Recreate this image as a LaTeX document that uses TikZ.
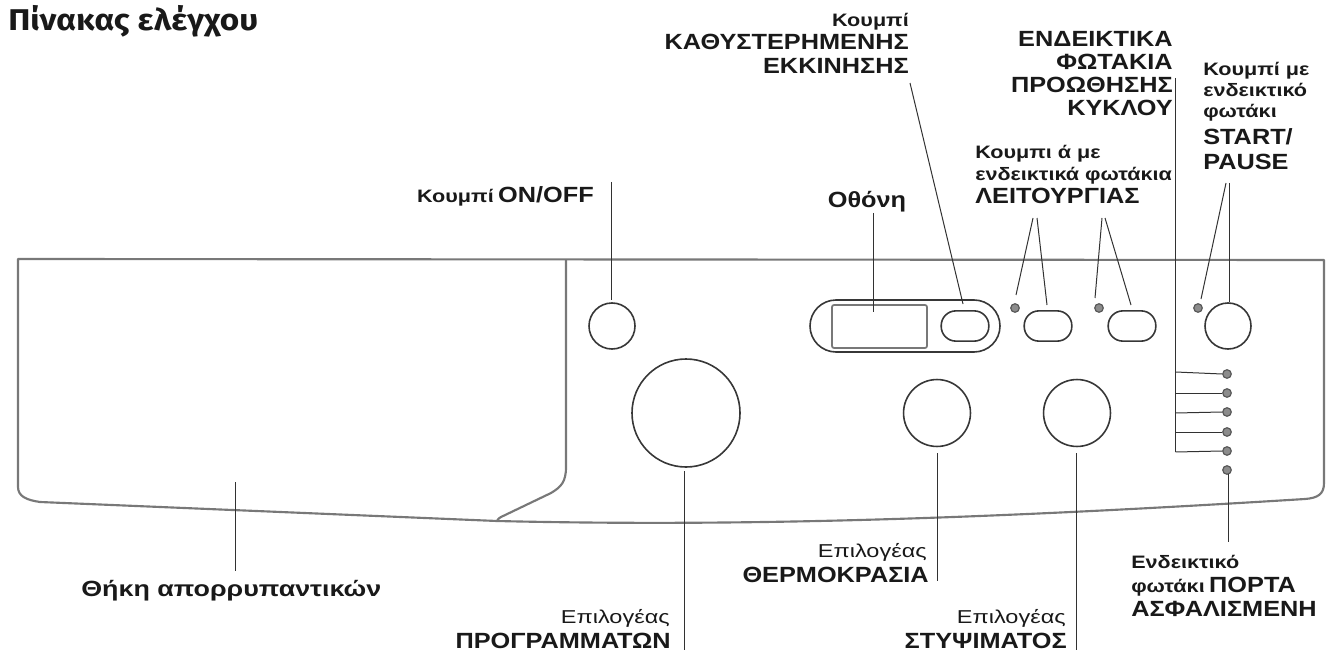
\documentclass[tikz,border=0pt]{standalone}
\usepackage{fontspec}
\newfontfamily\capsfont[FakeStretch=1.15]{Liberation Sans}
\newfontfamily\smlfont[FakeStretch=1.2]{Liberation Sans}
\newfontfamily\regfont[FakeStretch=1.26]{Liberation Sans}
\newfontfamily\widefont[FakeStretch=1.22]{Liberation Sans}
\newfontfamily\ttlfont[FakeStretch=1.11]{Fira Sans}
\newcommand\Lbig{\capsfont\bfseries\fontsize{16.5}{18}\selectfont}
\newcommand\Lsm{\smlfont\bfseries\fontsize{13.5}{15}\selectfont}
\newcommand\Lreg{\regfont\fontsize{14}{16}\selectfont}
\definecolor{panelgray}{RGB}{120,120,120}
\definecolor{btngray}{RGB}{55,55,55}
\definecolor{ledfill}{RGB}{140,140,140}
\definecolor{leadgray}{RGB}{50,50,50}
\definecolor{txt}{RGB}{25,25,25}
\begin{document}
\begin{tikzpicture}[x=0.75pt,y=-0.75pt,
  panel/.style={draw=panelgray,line width=1.6pt,line join=round},
  btnline/.style={draw=btngray,line width=1.2pt},
  knob/.style={circle,btnline,inner sep=0pt},
  pill/.style={rectangle,btnline,rounded corners=11pt,minimum width=35.7pt,minimum height=22.7pt,inner sep=0pt},
  led/.style={circle,draw=black!65,fill=ledfill,line width=0.9pt,minimum size=6.4pt,inner sep=0pt},
  leader/.style={draw=leadgray,line width=0.75pt},
  lbl/.style={inner sep=0pt,text=txt}]
\useasboundingbox (0,0) rectangle (1337,659);

% ---------- panel outline ----------
\draw[panel] (18,487) -- (18,259) -- (1324,260) -- (1324,483)
  .. controls (1324,494) and (1318,498) .. (1305,499)
  .. controls (1000,518) and (750,527) .. (497,521)
  -- (40,502) .. controls (26,500) and (18,496) .. (18,487);
\draw[panel] (566,260) -- (566,467) .. controls (566,482) and (561,487) .. (551,493)
  -- (501,517) .. controls (498,519) .. (497,521);

% ---------- display ----------
\draw[btnline,rounded corners=19.5pt] (810,300) rectangle (1000,352);
\draw[draw=panelgray,line width=1.3pt,rounded corners=1.5pt] (832,305) rectangle (927,348);
\node[pill] (delay) at (965,326) {};

% ---------- buttons ----------
\node[knob,minimum size=34.5pt] (onoff) at (612,326) {};
\node[knob,minimum size=81pt] (prog) at (686,413) {};
\node[knob,minimum size=50.2pt] (temp) at (937,413) {};
\node[knob,minimum size=50.2pt] (spin) at (1077,413) {};
\node[knob,minimum size=34.5pt] (start) at (1228,326) {};
\node[pill] (fa) at (1048,326) {};
\node[pill] (fb) at (1132,326) {};
\node[led] (ledA) at (1015,308) {};
\node[led] (ledB) at (1099,308) {};
\node[led] (ledS) at (1198,308) {};
\node[led] (p1) at (1227,374) {};
\node[led] (p2) at (1227,393) {};
\node[led] (p3) at (1227,412) {};
\node[led] (p4) at (1227,432) {};
\node[led] (p5) at (1227,451) {};
\node[led] (p6) at (1227,470) {};

% ---------- labels ----------
\node[lbl,anchor=base west] (title) at (8,31) {\ttlfont\bfseries\fontsize{22.5}{24}\selectfont Πίνακας ελέγχου};

\node[lbl,anchor=base east] (lonoff) at (594,203) {{\Lsm Κουμπί} {\Lbig ON/OFF}};
\node[lbl,anchor=base] (lscreen) at (867,208) {\Lbig Οθόνη};

\node[lbl,anchor=base east] (ld1) at (909,27) {\Lsm Κουμπί};
\node[lbl,anchor=base east] (ld2) at (909,50) {\Lbig ΚΑΘΥΣΤΕΡΗΜΕΝΗΣ};
\node[lbl,anchor=base east] (ld3) at (909,74) {\Lbig ΕΚΚΙΝΗΣΗΣ};

\node[lbl,anchor=base east] (lp1) at (1173,47) {\Lbig ΕΝΔΕΙΚΤΙΚΑ};
\node[lbl,anchor=base east] (lp2) at (1173,70) {\Lbig ΦΩΤΑΚΙΑ};
\node[lbl,anchor=base east] (lp3) at (1173,93) {\Lbig ΠΡΟΩΘΗΣΗΣ};
\node[lbl,anchor=base east] (lp4) at (1173,116) {\Lbig ΚΥΚΛΟΥ};

\node[lbl,anchor=base west] (ls1) at (1203,76) {\Lsm Κουμπί με};
\node[lbl,anchor=base west] (ls2) at (1203,97) {\Lsm ενδεικτικό};
\node[lbl,anchor=base west] (ls3) at (1203,118) {\Lsm φωτάκι};
\node[lbl,anchor=base west] (ls4) at (1203,145) {\Lbig START/};
\node[lbl,anchor=base west] (ls5) at (1203,170) {\Lbig PAUSE};

\node[lbl,anchor=base west] (lf1) at (975,159) {\Lsm Κουμπι ά με};
\node[lbl,anchor=base west] (lf2) at (975,181) {\Lsm ενδεικτικά φωτάκια};
\node[lbl,anchor=base west] (lf3) at (975,204) {\Lbig ΛΕΙΤΟΥΡΓΙΑΣ};

\node[lbl,anchor=base west] (ldrawer) at (81,596) {\widefont\bfseries\fontsize{16.5}{18}\selectfont Θήκη απορρυπαντικών};

\node[lbl,anchor=base east] (lpr1) at (670,623) {\Lreg Επιλογέας};
\node[lbl,anchor=base east] (lpr2) at (671,648) {\Lbig ΠΡΟΓΡΑΜΜΑΤΩΝ};
\node[lbl,anchor=base east] (lt1) at (927,557) {\Lreg Επιλογέας};
\node[lbl,anchor=base east] (lt2) at (929,582) {\Lbig ΘΕΡΜΟΚΡΑΣΙΑ};
\node[lbl,anchor=base east] (lsp1) at (1066,623) {\Lreg Επιλογέας};
\node[lbl,anchor=base east] (lsp2) at (1067,648) {\Lbig ΣΤΥΨΙΜΑΤΟΣ};

\node[lbl,anchor=base west] (ldo1) at (1131,568) {\Lsm Ενδεικτικό};
\node[lbl,anchor=base west] (ldo2) at (1131,592) {{\Lsm φωτάκι} {\Lbig ΠΟΡΤΑ}};
\node[lbl,anchor=base west] (ldo3) at (1131,616) {\Lbig ΑΣΦΑΛΙΣΜΕΝΗ};

% ---------- leader end points ----------
\coordinate (cOnA) at (611,182);   \coordinate (cOnB) at (611,300);
\coordinate (cScA) at (873,213);   \coordinate (cScB) at (873,312);
\coordinate (cDeA) at (910,83);    \coordinate (cDeB) at (963,304);
\coordinate (cF1) at (1033,218);   \coordinate (cF1e) at (1016,295);
\coordinate (cF2) at (1037,218);   \coordinate (cF2e) at (1047,305);
\coordinate (cF3) at (1102,218);   \coordinate (cF3e) at (1095,298);
\coordinate (cF4) at (1105,218);   \coordinate (cF4e) at (1131,305);
\coordinate (cPrA) at (1175.5,78); \coordinate (cPrB) at (1175.5,452);
\coordinate (cStA) at (1226,183);  \coordinate (cStAe) at (1201,299);
\coordinate (cStB) at (1229.5,183);\coordinate (cStBe) at (1229.5,302);
\coordinate (cPgA) at (684,471);   \coordinate (cPgB) at (684,650);
\coordinate (cTeA) at (937,453);   \coordinate (cTeB) at (937,581);
\coordinate (cSpA) at (1076,453);  \coordinate (cSpB) at (1076,650);
\coordinate (cDoA) at (1228,474);  \coordinate (cDoB) at (1228,542);
\coordinate (cDrA) at (235,482);   \coordinate (cDrB) at (235,571);

% ---------- leaders ----------
\draw[leader] (cOnA) -- (cOnB);
\draw[leader] (cScA) -- (cScB);
\draw[leader] (cDeA) -- (cDeB);
\draw[leader] (cF1) -- (cF1e);
\draw[leader] (cF2) -- (cF2e);
\draw[leader] (cF3) -- (cF3e);
\draw[leader] (cF4) -- (cF4e);
\draw[leader] (cPrA) -- (cPrB);
\foreach \k/\yy in {p1/372,p2/393,p3/413,p4/432,p5/452}
  \draw[leader] (1175.5,\yy) -- (\k.west);
\draw[leader] (cStA) -- (cStAe);
\draw[leader] (cStB) -- (cStBe);
\draw[leader] (cPgA) -- (cPgB);
\draw[leader] (cTeA) -- (cTeB);
\draw[leader] (cSpA) -- (cSpB);
\draw[leader] (cDoA) -- (cDoB);
\draw[leader] (cDrA) -- (cDrB);
\end{tikzpicture}
\end{document}
